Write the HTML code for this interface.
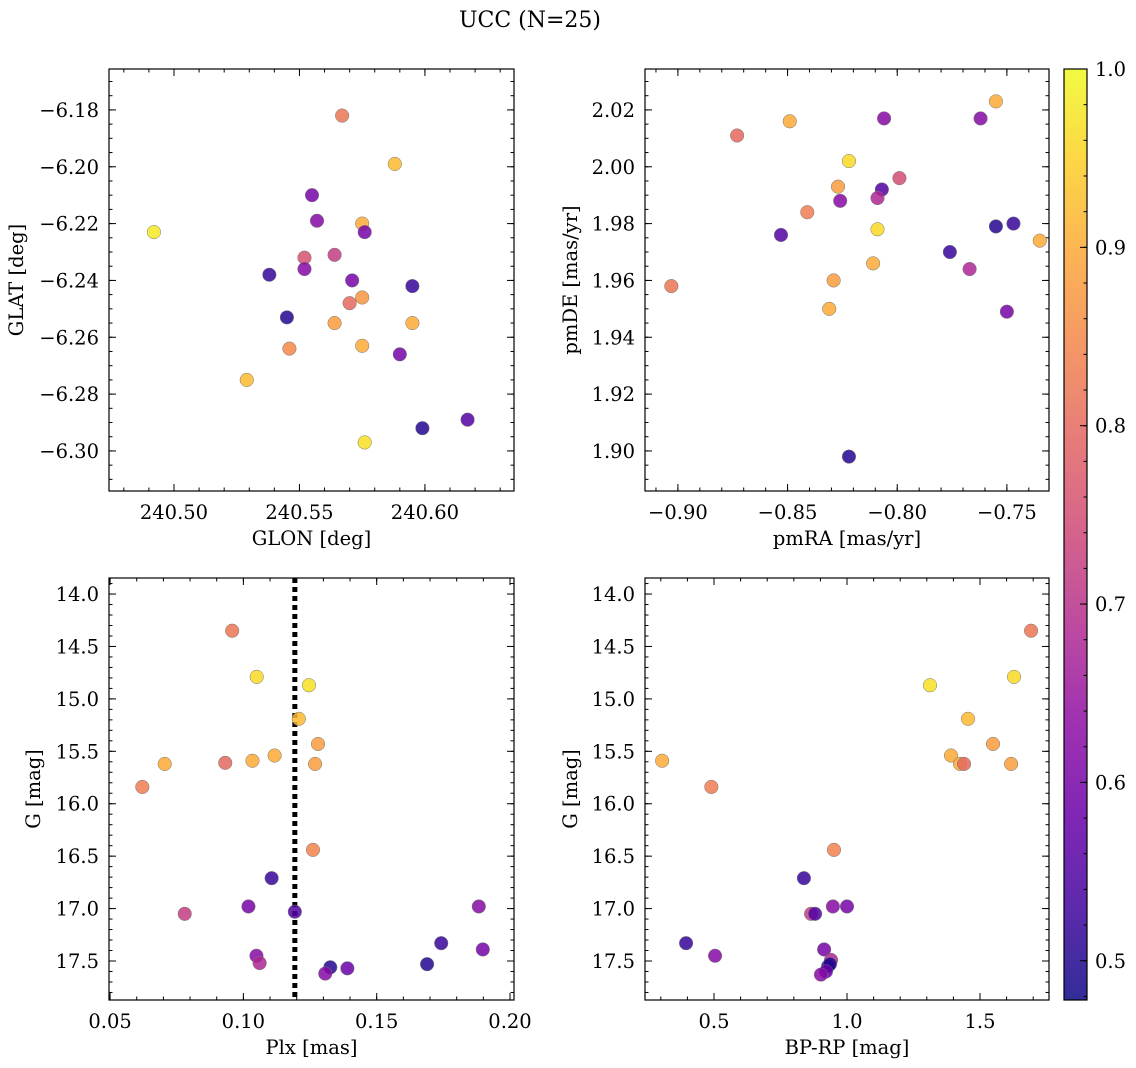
<!DOCTYPE html>
<html><head><meta charset="utf-8">
<style>
html,body{margin:0;padding:0;background:#fff;}
svg{display:block;font-family:"DejaVu Serif","Liberation Serif",serif;}
</style></head>
<body>
<svg id="chart" width="1136" height="1068" viewBox="0 0 1136 1068" xmlns="http://www.w3.org/2000/svg">
<text x="530" y="27" font-size="22" text-anchor="middle">UCC (N=25)</text>
</svg>
<script>
// Panel 1: GLON/GLAT
const p1X=[240.567,240.588,240.492,240.555,240.557,240.575,240.576,240.564,240.552,240.538,240.552,240.571,240.595,240.570,240.575,240.545,240.564,240.595,240.546,240.575,240.590,240.529,240.576,240.599,240.617];
const p1Y=[-6.182,-6.199,-6.223,-6.210,-6.219,-6.220,-6.223,-6.231,-6.232,-6.238,-6.236,-6.240,-6.242,-6.248,-6.246,-6.253,-6.255,-6.255,-6.264,-6.263,-6.266,-6.275,-6.297,-6.292,-6.289];
const p1C=[0.82,0.92,0.98,0.60,0.62,0.90,0.60,0.72,0.76,0.52,0.62,0.60,0.52,0.80,0.87,0.50,0.88,0.90,0.85,0.90,0.60,0.92,0.97,0.50,0.55];
// Panel 2: pmRA/pmDE
const p2X=[-0.873,-0.849,-0.806,-0.762,-0.755,-0.822,-0.799,-0.827,-0.807,-0.826,-0.809,-0.841,-0.853,-0.809,-0.755,-0.747,-0.776,-0.735,-0.811,-0.767,-0.903,-0.829,-0.831,-0.750,-0.822];
const p2Y=[2.011,2.016,2.017,2.017,2.023,2.002,1.996,1.993,1.992,1.988,1.989,1.984,1.976,1.978,1.979,1.980,1.970,1.974,1.966,1.964,1.958,1.960,1.950,1.949,1.898];
const p2C=[0.80,0.90,0.62,0.62,0.90,0.96,0.75,0.88,0.55,0.62,0.68,0.83,0.55,0.96,0.50,0.52,0.52,0.90,0.90,0.68,0.82,0.88,0.90,0.60,0.50];
// Panel 3: Plx/G
const p3X=[0.0958,0.105,0.1246,0.1208,0.128,0.1117,0.1034,0.0932,0.0705,0.1269,0.0621,0.1261,0.1106,0.1019,0.078,0.1193,0.1883,0.1742,0.1898,0.1049,0.1061,0.1689,0.1326,0.139,0.1307];
const p3Y=[14.35,14.79,14.87,15.19,15.43,15.54,15.59,15.61,15.62,15.62,15.84,16.44,16.71,16.98,17.05,17.03,16.98,17.33,17.39,17.45,17.52,17.53,17.56,17.57,17.62];
const p3C=[0.82,0.96,0.97,0.92,0.88,0.90,0.90,0.80,0.90,0.88,0.83,0.84,0.52,0.60,0.72,0.55,0.62,0.52,0.60,0.62,0.68,0.50,0.50,0.58,0.62];
const plxMean=0.1193;
// Panel 4: BP-RP/G
const p4X=[1.692,1.628,1.312,1.455,1.549,1.391,1.425,1.44,1.617,0.305,0.49,0.951,0.838,1.0,0.865,0.88,0.947,0.395,0.504,0.914,0.94,0.929,0.936,0.921,0.902];
const p4Y=[14.35,14.79,14.87,15.19,15.43,15.54,15.62,15.62,15.62,15.59,15.84,16.44,16.71,16.98,17.05,17.05,16.98,17.33,17.45,17.39,17.49,17.55,17.53,17.60,17.63];
const p4C=[0.82,0.96,0.97,0.92,0.88,0.90,0.90,0.80,0.88,0.90,0.83,0.84,0.52,0.60,0.72,0.55,0.62,0.52,0.62,0.60,0.68,0.50,0.50,0.58,0.62];
const cbTicks=[0.5,0.6,0.7,0.8,0.9,1.0];

const NS="http://www.w3.org/2000/svg";
const svg=document.getElementById('chart');
const CMIN=0.478,CMAX=1.0;
const FS=19.5;
const stops=["#0d0887","#41049d","#6a00a8","#8f0da4","#b12a90","#cc4778","#e16462","#f2844b","#fca636","#fcce25","#f0f921"];
function hex(h){return [parseInt(h.substr(1,2),16),parseInt(h.substr(3,2),16),parseInt(h.substr(5,2),16)];}
function plasma(t){t=Math.max(0,Math.min(1,t));const f=t*10,i=Math.min(9,Math.floor(f)),r=f-i;const a=hex(stops[i]),b=hex(stops[i+1]);return 'rgb('+a.map((v,k)=>Math.round(v+(b[k]-v)*r)).join(',')+')';}
function cmap(c){return plasma((c-CMIN)/(CMAX-CMIN));}
function mk(tag,attrs,parent){const e=document.createElementNS(NS,tag);for(const k in attrs)e.setAttribute(k,attrs[k]);(parent||svg).appendChild(e);return e;}
function range(a,b,s){const r=[];for(let v=a;v<=b+s*1e-6;v+=s)r.push(+v.toFixed(6));return r;}

function panel(o){
  const g=mk('g',{});
  
  
  const sx=v=>o.x0+(v-o.xmin)/(o.xmax-o.xmin)*(o.x1-o.x0);
  const sy=v=>o.yinv? o.y0+(v-o.ymin)/(o.ymax-o.ymin)*(o.y1-o.y0) : o.y1-(v-o.ymin)/(o.ymax-o.ymin)*(o.y1-o.y0);
  const tg=mk('g',{stroke:'#000','stroke-width':1},g);
  o.xminor.forEach(v=>{const x=sx(v);if(x<o.x0||x>o.x1)return;mk('line',{x1:x,x2:x,y1:o.y1,y2:o.y1-3.5},tg);mk('line',{x1:x,x2:x,y1:o.y0,y2:o.y0+3.5},tg);});
  o.yminor.forEach(v=>{const y=sy(v);if(y<o.y0||y>o.y1)return;mk('line',{x1:o.x0,x2:o.x0+3.5,y1:y,y2:y},tg);mk('line',{x1:o.x1,x2:o.x1-3.5,y1:y,y2:y},tg);});
  o.xmajor.forEach((v,i)=>{const x=sx(v);mk('line',{x1:x,x2:x,y1:o.y1,y2:o.y1-7},tg);mk('line',{x1:x,x2:x,y1:o.y0,y2:o.y0+7},tg);
    const t=mk('text',{x:x,y:o.y1+28,'font-size':FS,'text-anchor':'middle'},g);t.textContent=o.xlab[i];
    });
  o.ymajor.forEach((v,i)=>{const y=sy(v);mk('line',{x1:o.x0,x2:o.x0+7,y1:y,y2:y},tg);mk('line',{x1:o.x1,x2:o.x1-7,y1:y,y2:y},tg);
    const t=mk('text',{x:o.x0-10,y:y+7,'font-size':FS,'text-anchor':'end'},g);t.textContent=o.ylab[i];
    });
  if(o.vline!==undefined){const x=sx(o.vline);const l=mk('line',{x1:x,x2:x,y1:o.y0,y2:o.y1,stroke:'#000','stroke-width':5,'stroke-dasharray':'5,4'},g);
    }
  o.X.forEach((v,i)=>{const c=mk('circle',{cx:sx(v),cy:sy(o.Y[i]),r:6.8,fill:cmap(o.C[i]),'fill-opacity':0.85,stroke:'#777','stroke-width':0.5},g);
    });
  mk('rect',{x:o.x0,y:o.y0,width:o.x1-o.x0,height:o.y1-o.y0,fill:'none',stroke:'#000','stroke-width':1.2},g);
  const xl=mk('text',{x:(o.x0+o.x1)/2,y:o.y1+54,'font-size':FS,'text-anchor':'middle'},g);xl.textContent=o.xt;
  
  const cy=(o.y0+o.y1)/2;
  const yl=mk('text',{x:o.ytx,y:cy,'font-size':FS,'text-anchor':'middle',transform:'rotate(-90 '+o.ytx+' '+cy+')'},g);yl.textContent=o.yt;
  
}
const f2=v=>v.toFixed(2), f1=v=>v.toFixed(1);
let xm,ym;
xm=[240.50,240.55,240.60];ym=[-6.18,-6.20,-6.22,-6.24,-6.26,-6.28,-6.30];
panel({name:'glon-glat-panel',x0:109,x1:514,y0:69,y1:491,xmin:240.4741,xmax:240.6355,ymin:-6.3141,ymax:-6.1656,
  X:p1X,Y:p1Y,C:p1C,xmajor:xm,xlab:xm.map(f2),ymajor:ym,ylab:ym.map(v=>'\u2212'+Math.abs(v).toFixed(2)),
  xminor:range(240.48,240.63,0.01),yminor:range(-6.31,-6.17,0.005),xt:'GLON [deg]',yt:'GLAT [deg]',ytx:23});
xm=[-0.90,-0.85,-0.80,-0.75];ym=[1.90,1.92,1.94,1.96,1.98,2.00,2.02];
panel({name:'pm-panel',x0:645,x1:1049,y0:69,y1:491,xmin:-0.9150,xmax:-0.7308,ymin:1.8859,ymax:2.0344,
  X:p2X,Y:p2Y,C:p2C,xmajor:xm,xlab:xm.map(v=>'\u2212'+Math.abs(v).toFixed(2)),ymajor:ym,ylab:ym.map(f2),
  xminor:range(-0.91,-0.73,0.01),yminor:range(1.89,2.03,0.005),xt:'pmRA [mas/yr]',yt:'pmDE [mas/yr]',ytx:577});
xm=[0.05,0.10,0.15,0.20];ym=[14.0,14.5,15.0,15.5,16.0,16.5,17.0,17.5];
panel({name:'plx-g-panel',x0:109,x1:514,y0:578,y1:1000,xmin:0.0496,xmax:0.2015,ymin:13.847,ymax:17.872,yinv:true,
  X:p3X,Y:p3Y,C:p3C,xmajor:xm,xlab:xm.map(f2),ymajor:ym,ylab:ym.map(f1),vline:plxMean,
  xminor:range(0.05,0.20,0.01),yminor:range(13.9,17.8,0.1),xt:'Plx [mas]',yt:'G [mag]',ytx:40});
xm=[0.5,1.0,1.5];
panel({name:'cmd-panel',x0:645,x1:1049,y0:578,y1:1000,xmin:0.2406,xmax:1.7594,ymin:13.847,ymax:17.872,yinv:true,
  X:p4X,Y:p4Y,C:p4C,xmajor:xm,xlab:xm.map(f1),ymajor:ym,ylab:ym.map(f1),
  xminor:range(0.3,1.7,0.1),yminor:range(13.9,17.8,0.1),xt:'BP-RP [mag]',yt:'G [mag]',ytx:577});
(function(){
  const x0=1064,x1=1087,y0=69,y1=1000;
  const g=mk('g',{});
  
  
  const defs=mk('defs',{},g);
  const lg=mk('linearGradient',{id:'cbg',x1:0,y1:1,x2:0,y2:0},defs);
  for(let i=0;i<=20;i++){mk('stop',{offset:i/20,'stop-color':plasma(i/20),'stop-opacity':0.85},lg);}
  mk('rect',{x:x0,y:y0,width:x1-x0,height:y1-y0,fill:'url(#cbg)'},g);
  const sy=v=>y1-(v-CMIN)/(CMAX-CMIN)*(y1-y0);
  range(0.48,1.0,0.02).forEach(v=>{const y=sy(v);mk('line',{x1:x1,x2:x1-3.5,y1:y,y2:y,stroke:'#000'},g);});
  cbTicks.forEach(v=>{const y=sy(v);mk('line',{x1:x1,x2:x1-7,y1:y,y2:y,stroke:'#000'},g);
    const t=mk('text',{x:x1+8,y:y+7,'font-size':FS},g);t.textContent=v.toFixed(1);
    });
  mk('rect',{x:x0,y:y0,width:x1-x0,height:y1-y0,fill:'none',stroke:'#000','stroke-width':1.2},g);
})();
</script>
</body></html>
